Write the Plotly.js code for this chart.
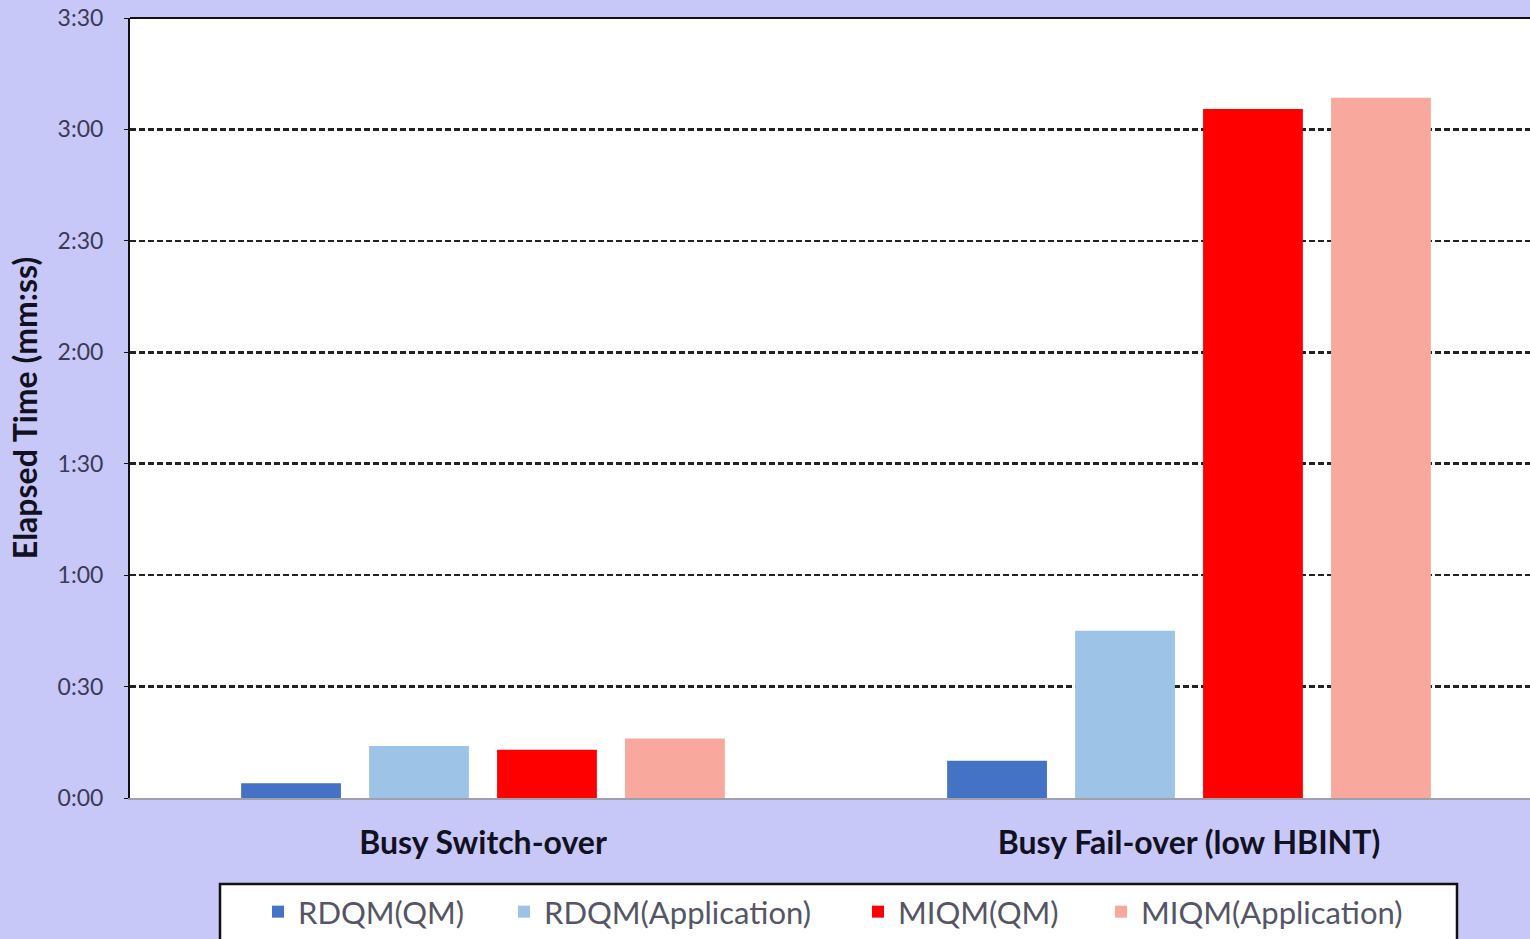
<!DOCTYPE html>
<html>
<head>
<meta charset="utf-8">
<script src="https://cdn.plot.ly/plotly-3.0.1.min.js"></script>
<style>html,body{margin:0;padding:0;background:#c8c8f8;}</style>
</head>
<body>
<div id="chart" style="width:1530px;height:939px;"></div>
<script>
const categories = ["Busy Switch-over", "Busy Fail-over (low HBINT)"];
const seriesNames = ["RDQM(QM)", "RDQM(Application)", "MIQM(QM)", "MIQM(Application)"];
// elapsed time in seconds
const rdqmQM = [4, 10];
const rdqmApp = [14, 45];
const miqmQM = [13, 185.5];
const miqmApp = [16, 188.5];
const seriesColors = ["#4472C4", "#9DC3E6", "#FF0000", "#F8A89C"];
const tickVals = [0, 30, 60, 90, 120, 150, 180, 210];
const tickText = ["0:00", "0:30", "1:00", "1:30", "2:00", "2:30", "3:00", "3:30"];

// plot area geometry in px (for converting legend positions)
const PL = 130, PW = 1400, PB = 798, PH = 780;
const legendTextStartPx = [258, 504, 858, 1101];
const legendIds = ["legend", "legend2", "legend3", "legend4"];

const values = [rdqmQM, rdqmApp, miqmQM, miqmApp];
const traces = values.map((v, i) => ({
  type: "bar",
  name: seriesNames[i],
  x: categories,
  y: v,
  marker: {color: seriesColors[i]},
  legend: legendIds[i],
  hoverinfo: "x+y+name"
}));

const legendY = (PB - 885) / PH;
function legendCfg(i) {
  return {
    orientation: "h",
    x: (legendTextStartPx[i] - PL) / PW, xanchor: "left",
    y: legendY, yanchor: "top",
    bgcolor: "rgba(0,0,0,0)",
    borderwidth: 0,
    font: {size: 31, color: "#555566", family: "Lato, 'Open Sans', sans-serif"},
    itemwidth: 30
  };
}

const layout = {
  width: 1530,
  height: 939,
  paper_bgcolor: "#c8c8f8",
  plot_bgcolor: "#ffffff",
  margin: {l: 130, r: 0, t: 18, b: 141},
  barmode: "group",
  bargap: 0.275,
  bargroupgap: 0.22,
  font: {family: "Lato, 'Open Sans', sans-serif", color: "#333344"},
  xaxis: {
    type: "category",
    range: [-0.5, 1.483],
    showgrid: false,
    showline: true,
    linecolor: "#a0a0a8",
    linewidth: 2,
    ticks: "",
    tickfont: {size: 32, color: "#111122", family: "Lato, sans-serif", weight: "bold"},
    ticklabelstandoff: 16
  },
  yaxis: {
    range: [0, 210],
    tickvals: tickVals,
    ticktext: tickText,
    showgrid: true,
    gridcolor: "#222222",
    gridwidth: 2.5,
    griddash: "6px,3px",
    zeroline: false,
    showline: true,
    linecolor: "#111111",
    linewidth: 2,
    ticks: "outside",
    ticklen: 4,
    tickcolor: "#111111",
    tickfont: {size: 23, color: "#3a3a55"},
    ticklabelstandoff: 16,
    title: {text: "Elapsed Time (mm:ss)", font: {size: 32, color: "#111122", weight: "bold"}, standoff: 10}
  },
  shapes: [
    {
      type: "line", xref: "paper", yref: "paper", x0: 0, x1: 1, y0: 1, y1: 1,
      line: {color: "#111111", width: 2}
    },
    {
      type: "rect", xref: "paper", yref: "paper",
      x0: (220 - PL) / PW, x1: (1457 - PL) / PW,
      y0: (PB - 884) / PH, y1: (PB - 950) / PH,
      fillcolor: "#ffffff", line: {color: "#111111", width: 2.5}
    }
  ],
  showlegend: true,
  legend: legendCfg(0),
  legend2: legendCfg(1),
  legend3: legendCfg(2),
  legend4: legendCfg(3)
};

Plotly.newPlot("chart", traces, layout, {displayModeBar: false, staticPlot: true});
</script>
</body>
</html>
